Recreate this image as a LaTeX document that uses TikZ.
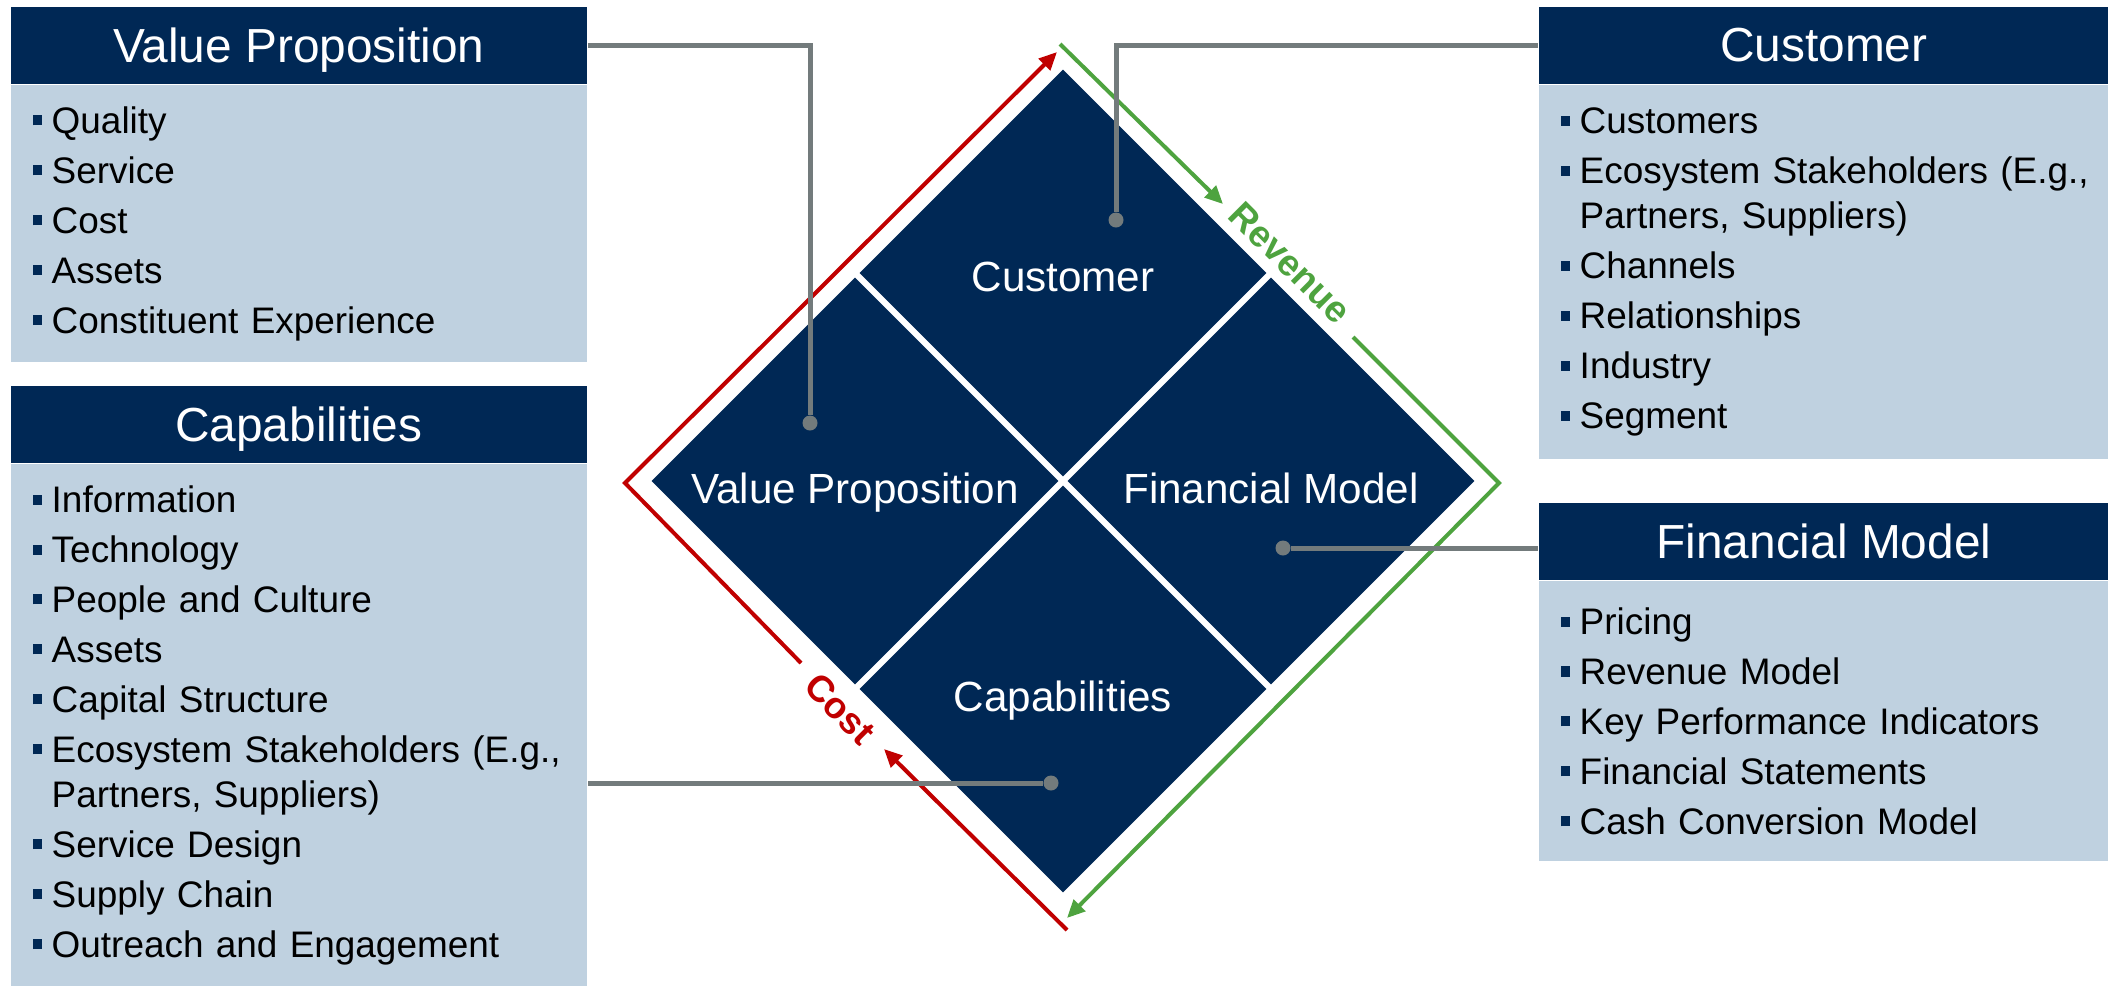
\documentclass[tikz,border=0pt]{standalone}
\usepackage{fontspec}
\setmainfont{Liberation Sans}
\usetikzlibrary{arrows.meta,shapes.geometric,positioning}

\definecolor{bmNavy}{HTML}{002855}
\definecolor{bmPale}{HTML}{BFD1E0}
\definecolor{bmGrey}{HTML}{737B7C}
\definecolor{bmRed}{HTML}{C00000}
\definecolor{bmGreen}{HTML}{4EA33F}

\newcommand{\bul}{\textcolor{bmNavy}{\rule[0.08cm]{0.09cm}{0.1cm}}\hspace{0.1cm}}
\newcommand{\bulind}{\hspace*{0.19cm}}

\begin{document}
\begin{tikzpicture}[x=0.01cm, y=-0.01cm,
  head/.style={fill=bmNavy, text=white, minimum width=#1, minimum height=0.77cm, inner sep=0pt, text depth=0pt, font=\fontsize{13.6}{16}\selectfont},
  body/.style={fill=bmPale, text width=#1, inner xsep=0.22cm, inner ysep=0pt, align=left, font=\fontsize{10.5}{12.8}\selectfont},
  quad/.style={diamond, aspect=1, fill=bmNavy, draw=white, line width=0.05cm, minimum width=4.16cm, minimum height=4.16cm, inner sep=0pt, text=white, text height=0.45cm, text depth=0pt, font=\fontsize{12}{14}\selectfont},
  costline/.style={draw=bmRed, line width=0.04cm},
  revline/.style={draw=bmGreen, line width=0.04cm},
  flowlabel/.style={rotate=-45, inner sep=0pt, font=\bfseries\fontsize{10.5}{12}\selectfont},
  link/.style={draw=bmGrey, line width=0.05cm},
  dot/.style={circle, fill=bmGrey, minimum size=0.15cm, inner sep=0pt}]
\useasboundingbox (0,0) rectangle (2108,987);

% left column
\node (vpHead) [head=5.76cm, anchor=north west] at (10,6) {Value Proposition};
\node (vpBody) [body=5.32cm, minimum height=2.77cm, below=0pt of vpHead] {\bul Quality\\[1.4pt]
  \bul Service\\[1.4pt]
  \bul Cost\\[1.4pt]
  \bul Assets\\[1.4pt]
  \bul Constituent Experience};
\node (capHead) [head=5.76cm, anchor=north west] at (10,385) {Capabilities};
\node (capBody) [body=5.32cm, minimum height=5.22cm, below=0pt of capHead] {\bul Information\\[1.4pt]
  \bul Technology\\[1.4pt]
  \bul People and Culture\\[1.4pt]
  \bul Assets\\[1.4pt]
  \bul Capital Structure\\[1.4pt]
  \mbox{\bul Ecosystem Stakeholders (E.g.,}\\
  \bulind Partners, Suppliers)\\[1.4pt]
  \bul Service Design\\[1.4pt]
  \bul Supply Chain\\[1.4pt]
  \bul Outreach and Engagement};

% right column
\node (cuHead) [head=5.70cm, anchor=north west] at (1538,6) {Customer};
\node (cuBody) [body=5.26cm, minimum height=3.74cm, below=0pt of cuHead] {\bul Customers\\[1.4pt]
  \mbox{\bul Ecosystem Stakeholders (E.g.,}\\
  \bulind Partners, Suppliers)\\[1.4pt]
  \bul Channels\\[1.4pt]
  \bul Relationships\\[1.4pt]
  \bul Industry\\[1.4pt]
  \bul Segment};
\node (fmHead) [head=5.70cm, anchor=north west] at (1538,502) {Financial Model};
\node (fmBody) [body=5.26cm, minimum height=2.80cm, below=0pt of fmHead] {\bul Pricing\\[1.4pt]
  \bul Revenue Model\\[1.4pt]
  \bul Key Performance Indicators\\[1.4pt]
  \bul Financial Statements\\[1.4pt]
  \bul Cash Conversion Model};

% the four quadrants
\node (cuQuad) [quad, text height=0.37cm] at (1063,273) {Customer};
\node (vpQuad) [quad] at (855,481) {Value Proposition};
\node (fmQuad) [quad] at (1271,481) {Financial Model};
\node (capQuad) [quad] at (1063,689) {Capabilities};

% cost and revenue
\coordinate (costStart) at (1067,930);
\coordinate (costGapA) at (884,749);
\coordinate (costGapB) at (801,663);
\coordinate (costLeft) at (625,483);
\coordinate (costTop) at (1057,52);
\draw[costline, -{Triangle[length=0.18cm, width=0.16cm]}] (costStart) -- (costGapA);
\draw[costline, -{Triangle[length=0.18cm, width=0.16cm]}] (costGapB) -- (costLeft) -- (costTop);
\node (costText) [flowlabel, text=bmRed] at (840,709) {Cost};

\coordinate (revTop) at (1060,44);
\coordinate (revGapA) at (1223,204);
\coordinate (revGapB) at (1353,337);
\coordinate (revRight) at (1499,483);
\coordinate (revEnd) at (1067,918);
\draw[revline, -{Triangle[length=0.18cm, width=0.16cm]}] (revTop) -- (revGapA);
\draw[revline, -{Triangle[length=0.18cm, width=0.16cm]}] (revGapB) -- (revRight) -- (revEnd);
\node (revText) [flowlabel, text=bmGreen] at (1290,263) {Revenue};

% connectors
\node (vpDot) [dot] at (810,423) {};
\node (cuDot) [dot] at (1116,220) {};
\node (fmDot) [dot] at (1283,548) {};
\node (capDot) [dot] at (1051,783) {};
\draw[link] (vpHead.east) -| (vpDot);
\draw[link] (cuHead.west) -| (cuDot);
\draw[link] (fmDot) -- (fmDot -| fmHead.west);
\draw[link] (capDot) -- (capDot -| capBody.east);
\end{tikzpicture}
\end{document}
